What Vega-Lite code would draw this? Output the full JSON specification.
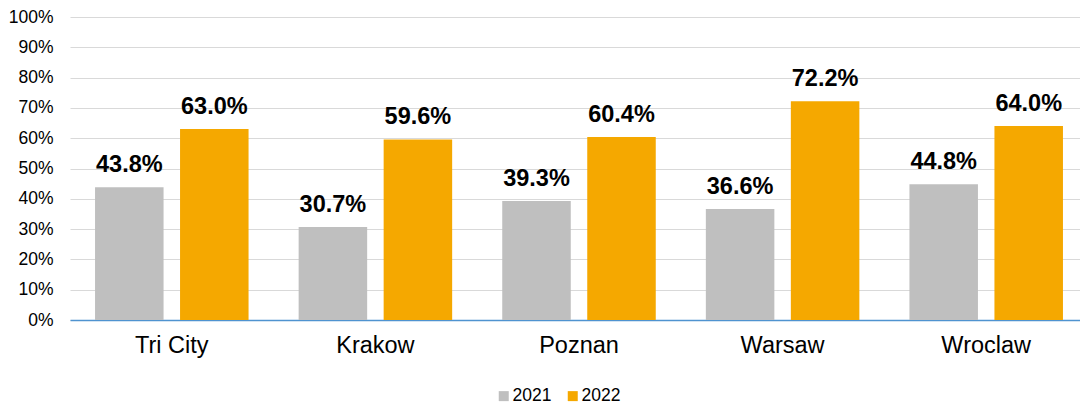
{
  "$schema": "https://vega.github.io/schema/vega-lite/v6.json",
  "autosize": "none",
  "width": 1010,
  "height": 303,
  "padding": {"left": 70, "top": 17, "right": 0, "bottom": 87},
  "background": "white",
  "config": {
    "view": {"stroke": null},
    "font": "Liberation Sans"
  },
  "data": {
    "values": [
      {"city": "Tri City", "year": "2021", "value": 0.438},
      {"city": "Tri City", "year": "2022", "value": 0.630},
      {"city": "Krakow", "year": "2021", "value": 0.307},
      {"city": "Krakow", "year": "2022", "value": 0.596},
      {"city": "Poznan", "year": "2021", "value": 0.393},
      {"city": "Poznan", "year": "2022", "value": 0.604},
      {"city": "Warsaw", "year": "2021", "value": 0.366},
      {"city": "Warsaw", "year": "2022", "value": 0.722},
      {"city": "Wroclaw", "year": "2021", "value": 0.448},
      {"city": "Wroclaw", "year": "2022", "value": 0.640}
    ]
  },
  "encoding": {
    "x": {
      "field": "city",
      "type": "nominal",
      "sort": null,
      "scale": {"range": [0, 1018], "paddingInner": 0.246, "paddingOuter": 0.123},
      "axis": {
        "title": null,
        "labelAngle": 0,
        "labelFontSize": 23.5,
        "labelColor": "#000000",
        "labelPadding": 13,
        "ticks": false,
        "domainColor": "#4f93d0",
        "domainWidth": 1.5,
        "grid": false
      }
    },
    "xOffset": {
      "field": "year",
      "type": "nominal",
      "scale": {"paddingInner": 0.194, "paddingOuter": 0}
    },
    "y": {
      "field": "value",
      "type": "quantitative",
      "scale": {"domain": [0, 1]},
      "axis": {
        "title": null,
        "format": ".0%",
        "values": [0, 0.1, 0.2, 0.3, 0.4, 0.5, 0.6, 0.7, 0.8, 0.9, 1],
        "labelFontSize": 17.5,
        "labelColor": "#000000",
        "labelPadding": 17,
        "ticks": false,
        "domain": false,
        "gridColor": "#d9d9d9",
        "gridWidth": 1
      }
    }
  },
  "layer": [
    {
      "mark": {"type": "bar"},
      "encoding": {
        "color": {
          "field": "year",
          "type": "nominal",
          "scale": {"domain": ["2021", "2022"], "range": ["#bfbfbf", "#f5a800"]},
          "legend": {
            "title": null,
            "orient": "none",
            "direction": "horizontal",
            "legendX": 425,
            "legendY": 370,
            "symbolType": "square",
            "symbolSize": 100,
            "symbolStrokeWidth": 0,
            "labelFontSize": 17.5,
            "labelColor": "#000000",
            "labelOffset": 0,
            "columnPadding": 12
          }
        }
      }
    },
    {
      "mark": {"type": "text", "baseline": "alphabetic", "dy": -15, "fontSize": 23.5, "fontWeight": "bold", "color": "#000000"},
      "encoding": {
        "text": {"field": "value", "type": "quantitative", "format": ".1%"}
      }
    }
  ]
}
